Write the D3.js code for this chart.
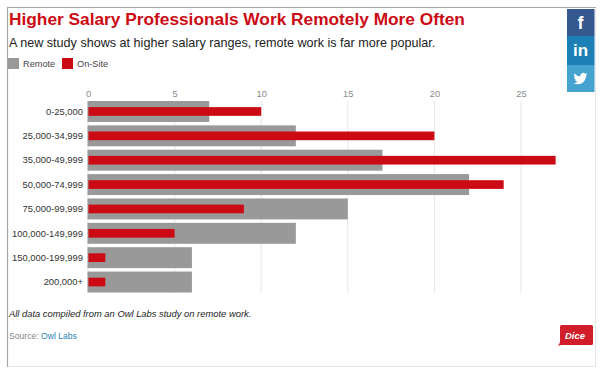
<!DOCTYPE html>
<html>
<head>
<meta charset="utf-8">
<script src="https://cdn.jsdelivr.net/npm/d3@7"></script>
<style>
  html, body { margin: 0; padding: 0; background: #fff; }
  svg { display: block; font-family: "Liberation Sans", Arial, sans-serif; }
</style>
</head>
<body>
<svg id="chart" width="600" height="371"></svg>
<script>
const categories = ["0-25,000", "25,000-34,999", "35,000-49,999", "50,000-74,999", "75,000-99,999", "100,000-149,999", "150,000-199,999", "200,000+"];
const remote = [7, 12, 17, 22, 15, 12, 6, 6];
const onSite = [10, 20, 27, 24, 9, 5, 1, 1];
const xTicks = [0, 5, 10, 15, 20, 25];
const legendLabels = ["Remote", "On-Site"];

const RED = "#cc0a14";
const GREY = "#999999";

const svg = d3.select("#chart");

// frame round the card
svg.append("rect").attr("x", 7.5).attr("y", 7.5).attr("width", 588).attr("height", 359)
  .attr("fill", "#fff").attr("stroke", "#e8e8e8");
svg.append("path").attr("d", "M7.5 367V7.5H596").attr("fill", "none").attr("stroke", "#a6a6a6").attr("stroke-width", 1.2);

svg.append("text").attr("x", 9).attr("y", 24.5)
  .attr("font-size", 17.3).attr("font-weight", 700).attr("fill", RED)
  .text("Higher Salary Professionals Work Remotely More Often");
svg.append("text").attr("x", 9).attr("y", 46.5)
  .attr("font-size", 12.6).attr("fill", "#222")
  .text("A new study shows at higher salary ranges, remote work is far more popular.");

// legend
const legendX = [8, 62];
const legend = svg.selectAll(".legend").data(legendLabels).enter().append("g")
  .attr("class", "legend")
  .attr("transform", (d, i) => `translate(${legendX[i]},58)`);
legend.append("rect").attr("width", 11).attr("height", 11)
  .attr("fill", (d, i) => i === 0 ? GREY : RED);
legend.append("text").attr("x", 15).attr("y", 8.7)
  .attr("font-size", 9.2).attr("fill", "#444").text(d => d);

// scales
const x = d3.scaleLinear().domain([0, 25]).range([88, 521]);
const y = d3.scaleBand().domain(categories).range([101, 292.5]).paddingInner(0.14).paddingOuter(0);
const rows = categories.map((c, i) => ({ c, remote: remote[i], onSite: onSite[i] }));

// top axis and its gridlines
const axis = d3.axisTop(x).tickValues(xTicks).tickSize(0).tickPadding(0);
const axisG = svg.append("g").attr("transform", "translate(0,96.5)").call(axis);
axisG.select(".domain").remove();
axisG.selectAll("text").attr("font-size", 9.4).attr("fill", "#8a8a8a").attr("font-family", "Liberation Sans");

svg.append("g").selectAll("line").data(xTicks).enter().append("line")
  .attr("x1", d => x(d)).attr("x2", d => x(d)).attr("y1", 101).attr("y2", 293)
  .attr("stroke", "#e6e6e6");

// bars
svg.append("g").selectAll("rect").data(rows).enter().append("rect")
  .attr("x", x(0) - 0.5).attr("y", d => y(d.c))
  .attr("width", d => x(d.remote) - x(0) + 0.5).attr("height", y.bandwidth())
  .attr("fill", GREY);
const inner = y.bandwidth() * 0.415;
svg.append("g").selectAll("rect").data(rows).enter().append("rect")
  .attr("x", x(0) + 0.5).attr("y", d => y(d.c) + (y.bandwidth() - inner) / 2)
  .attr("width", d => x(d.onSite) - x(0) - 0.5).attr("height", inner)
  .attr("fill", RED);

// category labels
svg.append("g").selectAll("text").data(categories).enter().append("text")
  .attr("x", 83).attr("y", d => y(d) + y.bandwidth() / 2).attr("dy", "0.35em")
  .attr("text-anchor", "end").attr("font-size", 9.4).attr("fill", "#333").text(d => d);

// footer
svg.append("text").attr("x", 9).attr("y", 317)
  .attr("font-size", 9.4).attr("font-style", "italic").attr("fill", "#222")
  .text("All data compiled from an Owl Labs study on remote work.");
const source = svg.append("text").attr("x", 9).attr("y", 339).attr("font-size", 8.6).attr("fill", "#888");
source.append("tspan").text("Source: ");
source.append("tspan").attr("fill", "#2b83b8").text("Owl Labs");

// share buttons
const shareColors = ["#35588f", "#1c7fb5", "#46a2cf"];
const shareTops = [9, 36, 65];
const shareHeights = [27, 29, 27];
shareColors.forEach((c, i) => {
  svg.append("rect").attr("x", 567).attr("y", shareTops[i]).attr("width", 27.5).attr("height", shareHeights[i]).attr("fill", c);
});
svg.append("text").attr("x", 580.5).attr("y", 29).attr("text-anchor", "middle")
  .attr("font-size", 18).attr("font-weight", 700).attr("fill", "#fff").text("f");
svg.append("text").attr("x", 580.5).attr("y", 56).attr("text-anchor", "middle")
  .attr("font-size", 17).attr("font-weight", 700).attr("fill", "#fff").text("in");
svg.append("path")
  .attr("transform", "translate(573.5,71.5) scale(0.58)")
  .attr("fill", "#fff")
  .attr("d", "M24 4.6a10 10 0 0 1-2.8.8 5 5 0 0 0 2.2-2.7 10 10 0 0 1-3.1 1.2 4.9 4.9 0 0 0-8.4 4.5A14 14 0 0 1 1.7 3.3a4.9 4.9 0 0 0 1.5 6.6 5 5 0 0 1-2.2-.6 4.9 4.9 0 0 0 3.9 4.9 5 5 0 0 1-2.2.1 4.9 4.9 0 0 0 4.6 3.4A10 10 0 0 1 0 19.7a14 14 0 0 0 7.5 2.2c9.1 0 14.1-7.5 14.1-14v-.6A10 10 0 0 0 24 4.6z");

// Dice logo
svg.append("path")
  .attr("d", "M560 326.5q0-1.5 1.5-1.5h30q1.5 0 1.5 1.5v17q0 1.5-1.5 1.5h-30l-4 0.8q2.5-2 2.5-4z")
  .attr("fill", "#d01f2b");
svg.append("text").attr("x", 575).attr("y", 339).attr("text-anchor", "middle")
  .attr("font-size", 9.5).attr("font-weight", 700).attr("font-style", "italic").attr("fill", "#fff").text("Dice");
</script>
</body>
</html>
